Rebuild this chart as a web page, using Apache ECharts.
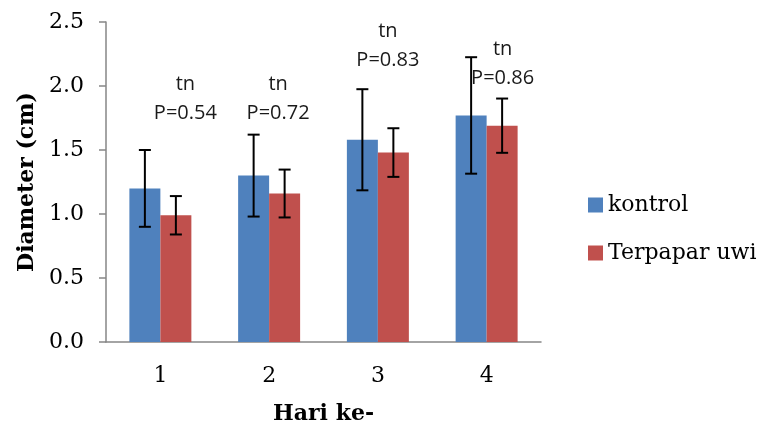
<!DOCTYPE html>
<html style="height: 100%">
<head>
    <meta charset="utf-8">
</head>
<body style="height: 100%; margin: 0; background: #fff">
<div id="container" style="width: 761px; height: 425px"></div>
<script type="text/javascript" src="https://cdn.jsdelivr.net/npm/echarts@6.0.0/dist/echarts.min.js"></script>
<script type="text/javascript">
  // hari pengamatan
  const days = ['1', '2', '3', '4'];
  // rata-rata diameter (cm) dan simpangan baku
  const kontrol = [1.20, 1.30, 1.58, 1.77];
  const kontrolSd = [0.30, 0.32, 0.395, 0.455];
  const terpapar = [0.99, 1.16, 1.48, 1.69];
  const terpaparSd = [0.15, 0.187, 0.19, 0.212];
  // hasil uji: tidak nyata (tn) + nilai P
  const pValues = ['0.54', '0.72', '0.83', '0.86'];
  const noteLevel = [1.79, 1.79, 2.20, 2.06];

  const blue = '#4F81BD';
  const red = '#C0504D';
  const serif = 'DejaVu Serif';

  // geser teks anotasi ke kanan (px), seperti di gambar asli
  const noteShift = [25, 9, 10, 16];
  const barFrac = 0.285;

  function errorBars (means, sds, side) {
    return {
      type: 'custom',
      silent: true,
      z: 5,
      data: means.map((m, i) => [i, m - sds[i], m + sds[i]]),
      renderItem: function (params, api) {
        const band = api.size([1, 0])[0];
        const w = band * barFrac;
        const lo = api.coord([api.value(0), api.value(1)]);
        const hi = api.coord([api.value(0), api.value(2)]);
        const x = lo[0] + side * w / 2;
        const cap = 6;
        const style = { stroke: '#000', lineWidth: 2 };
        return {
          type: 'group',
          children: [
            { type: 'line', shape: { x1: x, y1: lo[1], x2: x, y2: hi[1] }, style: style },
            { type: 'line', shape: { x1: x - cap, y1: hi[1], x2: x + cap, y2: hi[1] }, style: style },
            { type: 'line', shape: { x1: x - cap, y1: lo[1], x2: x + cap, y2: lo[1] }, style: style }
          ]
        };
      }
    };
  }

  var dom = document.getElementById('container');
  var myChart = echarts.init(dom);
  var option = {
    animation: false,
    grid: { left: 106, right: 220, top: 22, bottom: 83, outerBoundsMode: 'none' },
    legend: {
      orient: 'vertical',
      left: 583,
      top: 189,
      itemWidth: 15,
      itemHeight: 15,
      itemGap: 26,
      icon: 'rect',
      data: ['kontrol', 'Terpapar uwi'],
      textStyle: { fontFamily: serif, fontSize: 22, color: '#000' }
    },
    xAxis: {
      type: 'category',
      data: days,
      name: 'Hari ke-',
      nameLocation: 'middle',
      nameGap: 61,
      nameTextStyle: { fontFamily: serif, fontSize: 22, fontWeight: 'bold', color: '#000' },
      axisLine: { lineStyle: { color: '#868686', width: 1.5 } },
      axisTick: { length: 7, lineStyle: { color: '#868686', width: 1.5 } },
      axisLabel: { margin: 23, fontFamily: serif, fontSize: 22, color: '#000' }
    },
    yAxis: {
      type: 'value',
      min: 0,
      max: 2.5,
      interval: 0.5,
      name: 'Diameter (cm)',
      nameLocation: 'middle',
      nameGap: 63,
      nameTextStyle: { fontFamily: serif, fontSize: 22, fontWeight: 'bold', color: '#000' },
      axisLine: { show: true, lineStyle: { color: '#868686', width: 1.5 } },
      axisTick: { show: true, length: 7, lineStyle: { color: '#868686', width: 1.5 } },
      splitLine: { show: false },
      axisLabel: {
        margin: 22,
        fontFamily: serif,
        fontSize: 22,
        color: '#000',
        formatter: v => v.toFixed(1)
      }
    },
    series: [
      {
        name: 'kontrol',
        type: 'bar',
        data: kontrol,
        barGap: '0%',
        barCategoryGap: '43%',
        itemStyle: { color: blue }
      },
      {
        name: 'Terpapar uwi',
        type: 'bar',
        data: terpapar,
        barGap: '0%',
        barCategoryGap: '43%',
        itemStyle: { color: red }
      },
      errorBars(kontrol, kontrolSd, -1),
      errorBars(terpapar, terpaparSd, 1),
      {
        type: 'custom',
        silent: true,
        z: 6,
        data: pValues.map((p, i) => [i, noteLevel[i], p]),
        renderItem: function (params, api) {
          const i = params.dataIndex;
          const pt = api.coord([api.value(0), api.value(1)]);
          return {
            type: 'text',
            x: pt[0] + noteShift[i],
            y: pt[1] + 14.5,
            style: {
              text: 'tn\nP=' + pValues[i],
              fontFamily: 'Open Sans',
              fontSize: 20,
              lineHeight: 29,
              fill: '#1a1a1a',
              align: 'center',
              verticalAlign: 'bottom'
            }
          };
        }
      }
    ]
  };
  myChart.setOption(option);
</script>
</body>
</html>
